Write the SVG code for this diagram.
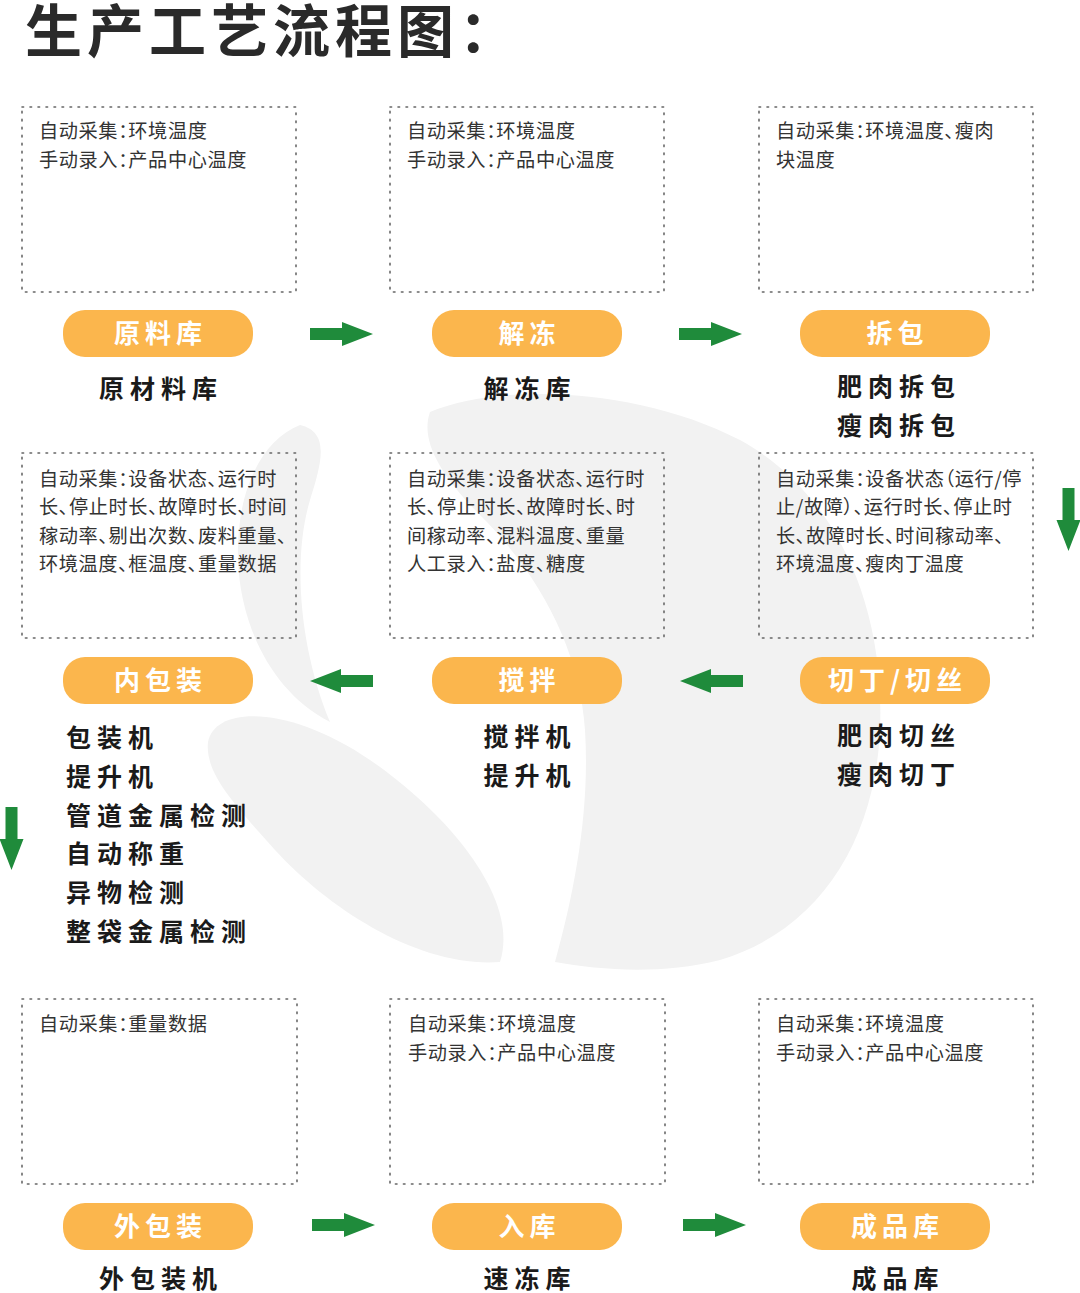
<svg xmlns="http://www.w3.org/2000/svg" width="1080" height="1293" viewBox="0 0 1080 1293">
<defs>
<style>
.bg{fill:#f2f2f2}
.box{fill:none;stroke:#666;stroke-width:1.6;stroke-dasharray:1.6 6.4;stroke-linecap:round}
.info{font-family:"Noto Sans CJK SC","Noto Sans",sans-serif;font-size:19.2px;fill:#333;font-feature-settings:"palt";letter-spacing:0.6px}
.pill{fill:#FBB64D}
.pt{font-family:"Noto Sans CJK SC","Noto Sans",sans-serif;font-size:26px;font-weight:700;fill:#fff;letter-spacing:5px;text-anchor:middle}
.lb{font-family:"Noto Sans CJK SC","Noto Sans",sans-serif;font-size:25px;font-weight:700;fill:#1a1a1a;letter-spacing:6px}
.c{text-anchor:middle}
.arr{fill:#1F8B3B}
</style>
<path id="arrow" d="M0,-6 H32 V-12 L63,0 L32,12 V6 H0 Z"/>
</defs>
<rect width="1080" height="1293" fill="#fff"/>
<g id="watermark">
<path class="bg" d="M430,412 C500,382 640,388 740,440 C840,495 885,610 880,730 C875,840 820,930 720,960 C660,975 600,970 555,962 C575,890 590,810 585,730 C580,650 540,575 480,515 C440,475 420,440 430,412 Z"/>
<path class="bg" d="M300,425 C262,440 236,490 238,560 C240,620 268,690 330,722 C300,650 292,560 310,500 C322,462 330,432 300,425 Z"/>
<path class="bg" d="M208,742 C215,705 290,705 370,760 C450,815 520,900 500,962 C420,968 330,910 275,850 C230,800 205,772 208,742 Z"/>
</g>
<text x="25" y="52" font-family="'Noto Sans CJK SC',sans-serif" font-size="57" font-weight="700" fill="#2a2a2a" letter-spacing="5">生产工艺流程图：</text>
<g id="connectors">
<use href="#arrow" class="arr" transform="translate(310,334)"/>
<use href="#arrow" class="arr" transform="translate(679,334)"/>
<use href="#arrow" class="arr" transform="translate(1068.5,488) rotate(90)"/>
<use href="#arrow" class="arr" transform="translate(743,681) rotate(180)"/>
<use href="#arrow" class="arr" transform="translate(373,681) rotate(180)"/>
<use href="#arrow" class="arr" transform="translate(11.5,807) rotate(90)"/>
<use href="#arrow" class="arr" transform="translate(312,1225)"/>
<use href="#arrow" class="arr" transform="translate(683,1225)"/>
</g>
<g id="node-yuanliaoku">
<rect class="box" x="22" y="107" width="274" height="185"/>
<text class="info" x="39" y="138">自动采集：环境温度</text>
<text class="info" x="39" y="167">手动录入：产品中心温度</text>
<rect class="pill" x="63" y="310" width="190" height="47" rx="22"/>
<text class="pt" x="160.5" y="343">原料库</text>
<text class="lb c" x="161" y="398">原材料库</text>
</g>
<g id="node-jiedong">
<rect class="box" x="390" y="107" width="274" height="185"/>
<text class="info" x="407" y="138">自动采集：环境温度</text>
<text class="info" x="407" y="167">手动录入：产品中心温度</text>
<rect class="pill" x="432" y="310" width="190" height="47" rx="22"/>
<text class="pt" x="529.5" y="343">解冻</text>
<text class="lb c" x="530" y="398">解冻库</text>
</g>
<g id="node-chaibao">
<rect class="box" x="759" y="107" width="274" height="185"/>
<text class="info" x="776" y="138">自动采集：环境温度、瘦肉</text>
<text class="info" x="776" y="167">块温度</text>
<rect class="pill" x="800" y="310" width="190" height="47" rx="22"/>
<text class="pt" x="897.5" y="343">拆包</text>
<text class="lb c" x="899" y="396">肥肉拆包</text>
<text class="lb c" x="899" y="435">瘦肉拆包</text>
</g>
<g id="node-qieding">
<rect class="box" x="759" y="453" width="274" height="185"/>
<text class="info" x="776" y="486">自动采集：设备状态（运行/停</text>
<text class="info" x="776" y="514">止/故障）、运行时长、停止时</text>
<text class="info" x="776" y="543">长、故障时长、时间稼动率、</text>
<text class="info" x="776" y="571">环境温度、瘦肉丁温度</text>
<rect class="pill" x="800" y="657" width="190" height="47" rx="22"/>
<text class="pt" x="897.5" y="690">切丁/切丝</text>
<text class="lb c" x="899" y="744.5">肥肉切丝</text>
<text class="lb c" x="899" y="783.5">瘦肉切丁</text>
</g>
<g id="node-jiaoban">
<rect class="box" x="390" y="453" width="274" height="185"/>
<text class="info" x="407" y="486">自动采集：设备状态、运行时</text>
<text class="info" x="407" y="514">长、停止时长、故障时长、时</text>
<text class="info" x="407" y="543">间稼动率、混料温度、重量</text>
<text class="info" x="407" y="571">人工录入：盐度、糖度</text>
<rect class="pill" x="432" y="657" width="190" height="47" rx="22"/>
<text class="pt" x="529.5" y="690">搅拌</text>
<text class="lb c" x="530" y="745.5">搅拌机</text>
<text class="lb c" x="530" y="784.5">提升机</text>
</g>
<g id="node-neibaozhuang">
<rect class="box" x="22" y="453" width="274" height="185"/>
<text class="info" x="39" y="486">自动采集：设备状态、运行时</text>
<text class="info" x="39" y="514">长、停止时长、故障时长、时间</text>
<text class="info" x="39" y="543">稼动率、剔出次数、废料重量、</text>
<text class="info" x="39" y="571">环境温度、框温度、重量数据</text>
<rect class="pill" x="63" y="657" width="190" height="47" rx="22"/>
<text class="pt" x="160.5" y="690">内包装</text>
<text class="lb" x="66" y="746.5">包装机</text>
<text class="lb" x="66" y="785.5">提升机</text>
<text class="lb" x="66" y="824.5">管道金属检测</text>
<text class="lb" x="66" y="862.5">自动称重</text>
<text class="lb" x="66" y="901.5">异物检测</text>
<text class="lb" x="66" y="940.5">整袋金属检测</text>
</g>
<g id="node-waibaozhuang">
<rect class="box" x="22" y="999" width="275" height="185"/>
<text class="info" x="39" y="1031">自动采集：重量数据</text>
<rect class="pill" x="63" y="1203" width="190" height="47" rx="22"/>
<text class="pt" x="160.5" y="1236">外包装</text>
<text class="lb c" x="161" y="1288">外包装机</text>
</g>
<g id="node-ruku">
<rect class="box" x="390" y="999" width="275" height="185"/>
<text class="info" x="408" y="1031">自动采集：环境温度</text>
<text class="info" x="408" y="1060">手动录入：产品中心温度</text>
<rect class="pill" x="432" y="1203" width="190" height="47" rx="22"/>
<text class="pt" x="529.5" y="1236">入库</text>
<text class="lb c" x="530" y="1288">速冻库</text>
</g>
<g id="node-chengpinku">
<rect class="box" x="759" y="999" width="274" height="185"/>
<text class="info" x="776" y="1031">自动采集：环境温度</text>
<text class="info" x="776" y="1060">手动录入：产品中心温度</text>
<rect class="pill" x="800" y="1203" width="190" height="47" rx="22"/>
<text class="pt" x="897.5" y="1236">成品库</text>
<text class="lb c" x="898" y="1288">成品库</text>
</g>
</svg>
